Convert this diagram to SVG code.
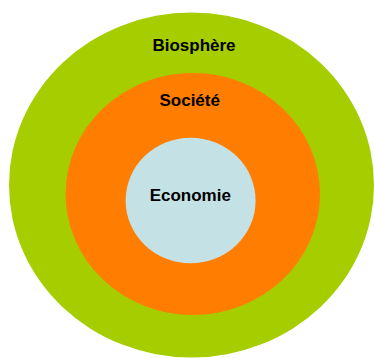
<svg xmlns="http://www.w3.org/2000/svg" width="374" height="358" viewBox="0 0 374 358">
<style>
.lbl{font-family:"Liberation Sans",Arial,sans-serif;font-weight:bold;font-size:17px;fill:#000;text-anchor:middle}
</style>
<rect width="374" height="358" fill="#fff"/>
<g id="biosphere">
<ellipse cx="191.5" cy="185" rx="182.5" ry="172.5" fill="#a6cd00"/>
<text class="lbl" x="194" y="51">Biosphère</text>
</g>
<g id="societe">
<ellipse cx="192.8" cy="194" rx="127.2" ry="121" fill="#ff7d00"/>
<text class="lbl" x="189.7" y="106">Société</text>
</g>
<g id="economie">
<ellipse cx="190.6" cy="200.5" rx="65" ry="62.8" fill="#c4e1e6"/>
<text class="lbl" x="190.3" y="201.3">Economie</text>
</g>
<g id="connectors"/>
</svg>
